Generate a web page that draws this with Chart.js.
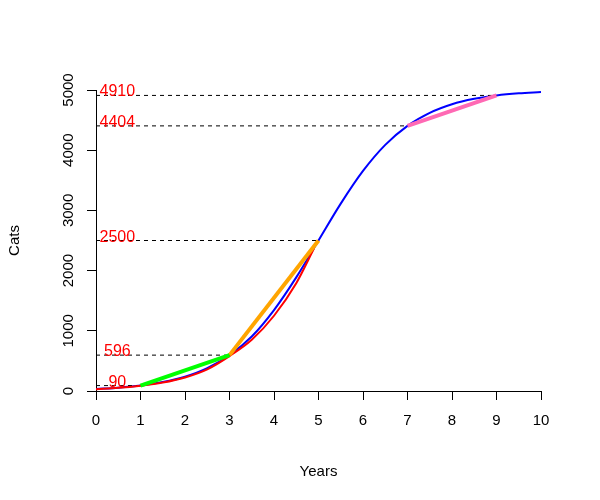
<!DOCTYPE html>
<html>
<head>
<meta charset="utf-8">
<script src="https://cdn.jsdelivr.net/npm/chart.js@4.4.0/dist/chart.umd.min.js"></script>
<style>
  html, body { margin: 0; padding: 0; background: #fff; }
  #wrap { width: 600px; height: 500px; }
</style>
</head>
<body>
<div id="wrap"><canvas id="cats" width="600" height="500"></canvas></div>
<script>
// growth curve
var years = [0, 0.5, 1, 1.5, 2, 2.5, 3, 3.5, 4, 4.5, 5, 5.5, 6, 6.5, 7, 7.5, 8, 8.5, 9, 9.5, 10];
var cats = [33, 55, 90, 148, 237, 379, 596, 906, 1345, 1888, 2500, 3112, 3655, 4088, 4404, 4620, 4763, 4853, 4910, 4945, 4966];

// red part of the curve (sits a little under the blue one, stops just short of year 5)
var redYears = [0, 0.5, 1, 1.5, 2, 2.5, 3, 3.5, 4, 4.5, 4.9];
var redCats = [30, 52, 88, 140, 225, 360, 580, 850, 1250, 1790, 2370];

// marked points and their secant lines
var markYears = [1, 3, 5, 7, 9];
var markCats = [90, 596, 2500, 4404, 4910];
var markLabels = ["90", "596", "2500", "4404", "4910"];

var greenSeg = [[1, 90], [3, 596]];
var orangeSeg = [[3, 596], [5, 2500]];
var pinkSeg = [[7, 4404], [9, 4910]];

var xTicks = [0, 1, 2, 3, 4, 5, 6, 7, 8, 9, 10];
var yTicks = [0, 1000, 2000, 3000, 4000, 5000];

(function () {
    var FONT = '15px Arial, "Liberation Sans", sans-serif';
    var LABEL_FONT = '16px Arial, "Liberation Sans", sans-serif';

    function pts(xs, ys) {
        return xs.map(function (x, i) { return { x: x, y: ys[i] }; });
    }

    function seg(s) {
        return s.map(function (p) { return { x: p[0], y: p[1] }; });
    }

    var datasets = [];

    datasets.push({
        data: pts(years, cats),
        borderColor: "#0000ff",
        borderWidth: 2,
        pointRadius: 0,
        cubicInterpolationMode: "monotone",
        order: 10
    });

    markYears.forEach(function (yr, i) {
        datasets.push({
            data: [{ x: 0, y: markCats[i] }, { x: yr, y: markCats[i] }],
            borderColor: "#000",
            borderWidth: 1,
            borderDash: [4, 4],
            pointRadius: 0,
            order: 8
        });
    });

    datasets.push({
        data: pts(redYears, redCats),
        borderColor: "#ff0000",
        borderWidth: 2,
        pointRadius: 0,
        cubicInterpolationMode: "monotone",
        order: 5
    });

    [[greenSeg, "#00ff00"], [orangeSeg, "#ffa500"], [pinkSeg, "#ff69b4"]].forEach(function (s) {
        datasets.push({
            data: seg(s[0]),
            borderColor: s[1],
            borderWidth: 4,
            borderCapStyle: "butt",
            pointRadius: 0,
            order: 1
        });
    });

    // R-style texts: tick labels, axis titles, red value labels
    var textPlugin = {
        id: "rtext",
        afterDraw: function (chart) {
            var ctx = chart.ctx, area = chart.chartArea;
            var xs = chart.scales.x, ys = chart.scales.y;
            ctx.save();
            ctx.font = FONT;
            ctx.fillStyle = "#000";
            ctx.textAlign = "center";
            ctx.textBaseline = "alphabetic";

            xTicks.forEach(function (v) {
                ctx.fillText(String(v), xs.getPixelForValue(v), 425);
            });
            yTicks.forEach(function (v) {
                ctx.save();
                ctx.translate(73, ys.getPixelForValue(v));
                ctx.rotate(-Math.PI / 2);
                ctx.fillText(String(v), 0, 0);
                ctx.restore();
            });

            ctx.fillText("Years", (area.left + area.right) / 2, 476);
            ctx.save();
            ctx.translate(19, (area.top + area.bottom) / 2);
            ctx.rotate(-Math.PI / 2);
            ctx.fillText("Cats", 0, 0);
            ctx.restore();

            ctx.font = LABEL_FONT;
            ctx.fillStyle = "#ff0000";
            markCats.forEach(function (v, i) {
                ctx.fillText(markLabels[i], xs.getPixelForValue(0.48), ys.getPixelForValue(v) + 1);
            });
            ctx.restore();
        }
    };

    var axisLook = {
        display: true,
        drawOnChartArea: false,
        drawTicks: true,
        tickLength: 9,
        color: "#000",
        tickColor: "#000",
        lineWidth: 1
    };

    new Chart(document.getElementById("cats").getContext("2d"), {
        type: "line",
        data: { datasets: datasets },
        options: {
            responsive: false,
            animation: false,
            events: [],
            layout: { padding: { top: 90, right: 59, left: 0, bottom: 0 } },
            plugins: { legend: { display: false }, tooltip: { enabled: false } },
            elements: { line: { tension: 0 } },
            scales: {
                x: {
                    type: "linear",
                    min: 0,
                    max: 10,
                    ticks: { stepSize: 1, display: false },
                    grid: axisLook,
                    border: { display: true, color: "#000", width: 1 },
                    afterFit: function (scale) { scale.height = 109; }
                },
                y: {
                    type: "linear",
                    min: 0,
                    max: 5000,
                    ticks: { stepSize: 1000, display: false },
                    grid: axisLook,
                    border: { display: true, color: "#000", width: 1 },
                    afterFit: function (scale) { scale.width = 96; }
                }
            }
        },
        plugins: [textPlugin]
    });
})();
</script>
</body>
</html>
